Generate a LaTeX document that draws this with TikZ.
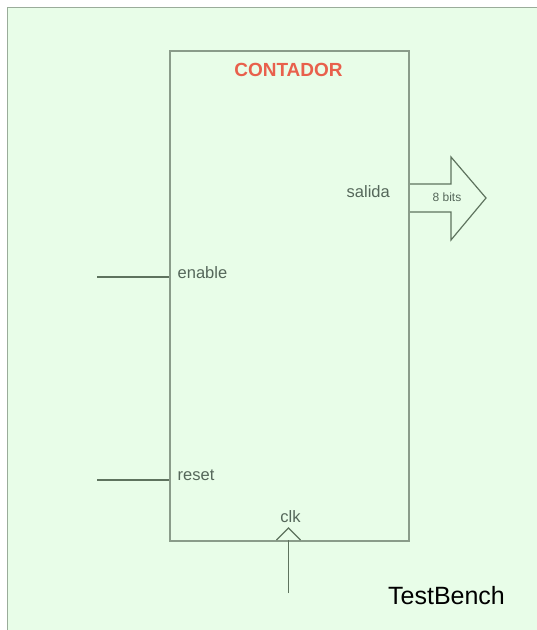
\documentclass[tikz,border=0pt]{standalone}
\usepackage{fontspec}
\setmainfont{Liberation Sans}
\definecolor{bg}{HTML}{E8FDE8}
\definecolor{frame}{HTML}{8A9C8A}
\definecolor{outer}{HTML}{9AAC9A}
\definecolor{wire}{HTML}{5E735E}
\definecolor{lbl}{HTML}{55675A}
\definecolor{title}{HTML}{E8604C}
\begin{document}
\begin{tikzpicture}[x=1pt,y=-1pt,
  lab/.style={text=lbl,font=\fontsize{16.5}{19}\selectfont,inner sep=0pt},
  wireline/.style={draw=wire,line width=1.5pt},
  boxline/.style={draw=frame,line width=1.6pt}]
\useasboundingbox (0,0) rectangle (537,630);
\fill[white] (0,0) rectangle (537,630);
\draw[draw=outer,fill=bg,line width=1.6pt] (7.5,7.5) rectangle (545,640);
% output bus arrow
\draw[wireline,line width=1.2pt] (408,184) -- (451,184) -- (451,157) -- (486,198) -- (451,240) -- (451,212) -- (408,212);
% main block
\coordinate (tl) at (169,50);
\node[boxline,draw,rectangle,minimum width=239pt,minimum height=490pt,anchor=north west,inner sep=0pt] (blk) at (tl) {};
\node[text=title,font=\bfseries\fontsize{19}{21}\selectfont,inner sep=0pt] (ttl) at (288.5,70) {CONTADOR};
% ports
\node[lab,anchor=west] (en) at (177.5,273) {enable};
\node[lab,anchor=west] (rs) at (177.5,475) {reset};
\node[lab,anchor=east] (sal) at (390,192) {salida};
\node[lab] (ck) at (290.5,517) {clk};
\coordinate (enin) at (97,277);
\coordinate (rsin) at (97,480);
\draw[wireline] (enin) -- (blk.west |- enin);
\draw[wireline] (rsin) -- (blk.west |- rsin);
% clock
\coordinate (ckb) at (288.5,593);
\coordinate (ckt) at (288.5,540);
\draw[wireline] (ckb) -- (ckt);
\draw[wireline,line width=1.2pt] (276.5,540) -- (288.5,528) -- (300.5,540);
\node[text=lbl,font=\fontsize{12}{14}\selectfont,inner sep=0pt] (bits) at (447,197.5) {8 bits};
% label
\node[text=black,font=\fontsize{25}{28}\selectfont,inner sep=0pt] (tb) at (446.5,596) {TestBench};
\end{tikzpicture}
\end{document}
